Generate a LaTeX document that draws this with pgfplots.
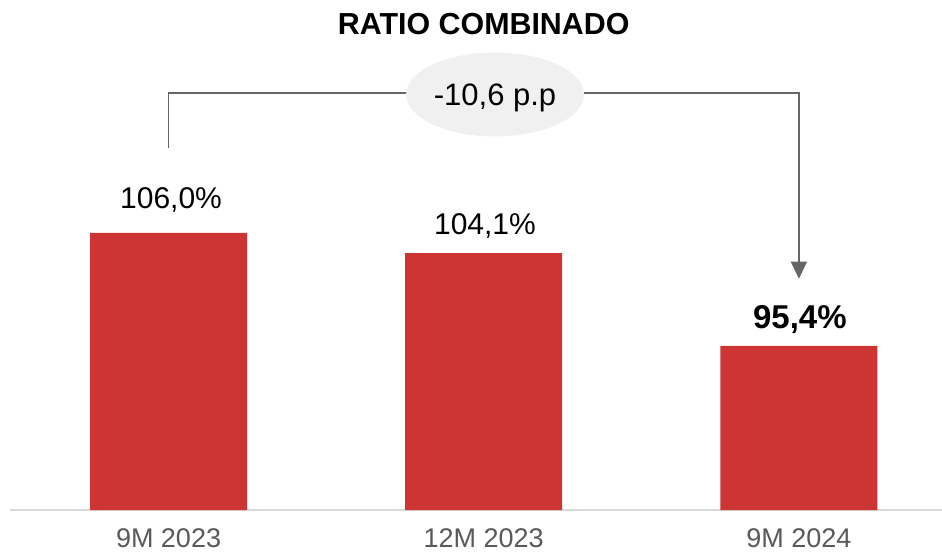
\documentclass[border=0pt]{standalone}
\usepackage{pgfplots}
\pgfplotsset{compat=1.18}
\usepackage{fontspec}
\setmainfont{Liberation Sans}
\usetikzlibrary{arrows.meta,shapes.geometric}

\definecolor{barred}{HTML}{CD3434}
\definecolor{tickgray}{HTML}{595959}
\definecolor{linegray}{HTML}{666666}
\definecolor{ovalgray}{HTML}{F0F0F0}
\definecolor{axisgray}{HTML}{D9D9D9}

\begin{document}
\begin{tikzpicture}
\begin{axis}[
    name=ax,
    scale only axis,
    width=466pt,
    height=255pt,
    xmin=-0.503, xmax=2.454,
    ymin=80, ymax=127.84,
    axis x line=bottom,
    axis y line=none,
    x axis line style={-, draw=axisgray, line width=1pt},
    xtick={0,1,2},
    xticklabels={9M 2023,12M 2023,9M 2024},
    major tick length=0pt,
    xticklabel style={font=\fontsize{13.5}{16}\selectfont, text=tickgray, yshift=-6pt},
    ytick=\empty,
    /pgf/number format/assume math mode=true,
  ]

  % bars
  \addplot[ybar, bar width=78.5pt, fill=barred, draw=none] coordinates {
    (0,106.0)
    (1,104.1)
    (2,95.4)
  };

  % value labels
  \node[anchor=base, font=\fontsize{15}{18}\selectfont] at (axis cs:0.008,108.24) {106,0\%};
  \node[anchor=base, font=\fontsize{15}{18}\selectfont] at (axis cs:1.004,105.80) {104,1\%};
  \node[anchor=base, font=\bfseries\fontsize{16.5}{19}\selectfont] at (axis cs:2.003,97.07) {95,4\%};

  % title
  \node[font=\bfseries\fontsize{15.2}{18}\selectfont] at (axis cs:1.0,125.6) {RATIO COMBINADO};

  % bracket with arrow
  \draw[linegray, line width=0.75pt, -{Triangle[length=8.5pt,width=8pt]}]
    (axis cs:0,114) -- (axis cs:0,119.1) -- (axis cs:2,119.1) -- (axis cs:2,101.7);

  % difference oval
  \node[ellipse, fill=ovalgray, minimum width=89pt, minimum height=42pt, inner sep=0pt]
    at (axis cs:1.036,118.98) {};
  \node[anchor=base, font=\fontsize{15.5}{18}\selectfont] at (axis cs:1.036,117.99) {-10,6 p.p};

\end{axis}
\pgfresetboundingbox
\path[use as bounding box] ([xshift=-5pt,yshift=-21.5pt]ax.south west) rectangle (ax.north east);
\end{tikzpicture}
\end{document}
